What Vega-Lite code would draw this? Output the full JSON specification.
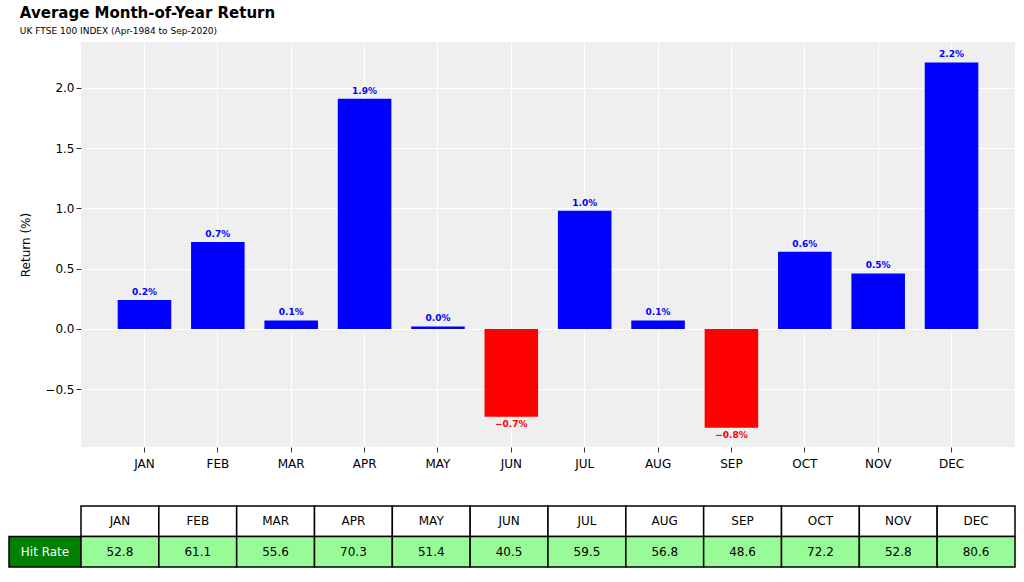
{
  "$schema": "https://vega.github.io/schema/vega-lite/v6.json",
  "background": "white",
  "padding": {"left": 8, "top": 6, "right": 10, "bottom": 4},
  "config": {
    "font": "DejaVu Sans",
    "view": {"stroke": null},
    "concat": {"spacing": 0}
  },
  "data": {
    "values": [
      {"month": "JAN", "ret": 0.24, "hit": "52.8"},
      {"month": "FEB", "ret": 0.72, "hit": "61.1"},
      {"month": "MAR", "ret": 0.07, "hit": "55.6"},
      {"month": "APR", "ret": 1.91, "hit": "70.3"},
      {"month": "MAY", "ret": 0.02, "hit": "51.4"},
      {"month": "JUN", "ret": -0.73, "hit": "40.5"},
      {"month": "JUL", "ret": 0.98, "hit": "59.5"},
      {"month": "AUG", "ret": 0.07, "hit": "56.8"},
      {"month": "SEP", "ret": -0.82, "hit": "48.6"},
      {"month": "OCT", "ret": 0.64, "hit": "72.2"},
      {"month": "NOV", "ret": 0.46, "hit": "52.8"},
      {"month": "DEC", "ret": 2.21, "hit": "80.6"}
    ]
  },
  "bounds": "full",
  "spacing": 36,
  "vconcat": [
    {
      "bounds": "flush",
      "hconcat": [
        {"width": 72, "height": 405, "mark": {"type": "point", "opacity": 0}, "encoding": {}},
        {
          "width": 934,
          "height": 405,
          "title": {
            "text": "Average Month-of-Year Return",
            "subtitle": "UK FTSE 100 INDEX (Apr-1984 to Sep-2020)",
            "anchor": "start",
            "fontSize": 15,
            "fontWeight": "bold",
            "subtitleFontSize": 9,
            "subtitlePadding": 6,
            "offset": 6
          },
          "view": {"fill": "#efefef"},
          "transform": [
            {"calculate": "format(datum.ret, '.1f') + '%'", "as": "lbl"}
          ],
          "encoding": {
            "x": {
              "field": "month", "type": "nominal", "sort": null,
              "scale": {"paddingInner": 0.27, "paddingOuter": 0.5},
              "axis": {"title": null, "domain": false, "labelAngle": 0, "labelFontSize": 12, "labelPadding": 6, "grid": true, "bandPosition": 0.5, "gridColor": "white", "tickColor": "#333"}
            },
            "y": {
              "field": "ret", "type": "quantitative",
              "scale": {"domain": [-0.98, 2.38], "nice": false, "zero": false},
              "axis": {"title": "Return (%)", "titleFontSize": 12, "titleFontWeight": "normal", "titlePadding": 12, "values": [-0.5, 0, 0.5, 1, 1.5, 2], "format": ".1f", "labelFontSize": 12, "domain": false, "gridColor": "white", "tickColor": "#333"}
            },
            "color": {
              "condition": {"test": "datum.ret < 0", "value": "#ff0000"},
              "value": "#0000ff"
            }
          },
          "layer": [
            {"mark": {"type": "bar"}, "encoding": {"y2": {"datum": 0}}},
            {
              "transform": [{"filter": "datum.ret >= 0"}],
              "mark": {"type": "text", "baseline": "bottom", "dy": -3, "fontSize": 9, "fontWeight": "bold"},
              "encoding": {"text": {"field": "lbl"}}
            },
            {
              "transform": [{"filter": "datum.ret < 0"}],
              "mark": {"type": "text", "baseline": "top", "dy": 3, "fontSize": 9, "fontWeight": "bold"},
              "encoding": {"text": {"field": "lbl"}}
            }
          ]
        }
      ]
    },
    {
      "bounds": "flush",
      "hconcat": [
        {
          "width": 72,
          "height": 61,
          "transform": [{"filter": "datum.month == 'JAN'"}],
          "encoding": {
            "y": {"datum": "v", "type": "nominal", "scale": {"domain": ["h", "v"], "paddingInner": 0, "paddingOuter": 0}, "axis": null}
          },
          "layer": [
            {"mark": {"type": "rect", "fill": "#008000", "stroke": "black", "strokeWidth": 1.5}},
            {"mark": {"type": "text", "color": "white", "fontSize": 12, "text": "Hit Rate"}}
          ]
        },
        {
          "width": 934,
          "height": 61,
          "encoding": {
            "x": {"field": "month", "type": "nominal", "sort": null, "scale": {"paddingInner": 0, "paddingOuter": 0}, "axis": null}
          },
          "layer": [
            {
              "mark": {"type": "rect", "fill": "white", "stroke": "black", "strokeWidth": 1.5},
              "encoding": {"y": {"datum": "h", "type": "nominal", "scale": {"domain": ["h", "v"], "paddingInner": 0, "paddingOuter": 0}, "axis": null}}
            },
            {
              "mark": {"type": "rect", "fill": "#98fb98", "stroke": "black", "strokeWidth": 1.5},
              "encoding": {"y": {"datum": "v", "type": "nominal"}}
            },
            {
              "mark": {"type": "text", "fontSize": 12, "color": "black"},
              "encoding": {"y": {"datum": "h", "type": "nominal"}, "text": {"field": "month"}}
            },
            {
              "mark": {"type": "text", "fontSize": 12, "color": "black"},
              "encoding": {"y": {"datum": "v", "type": "nominal"}, "text": {"field": "hit"}}
            }
          ]
        }
      ]
    }
  ]
}
